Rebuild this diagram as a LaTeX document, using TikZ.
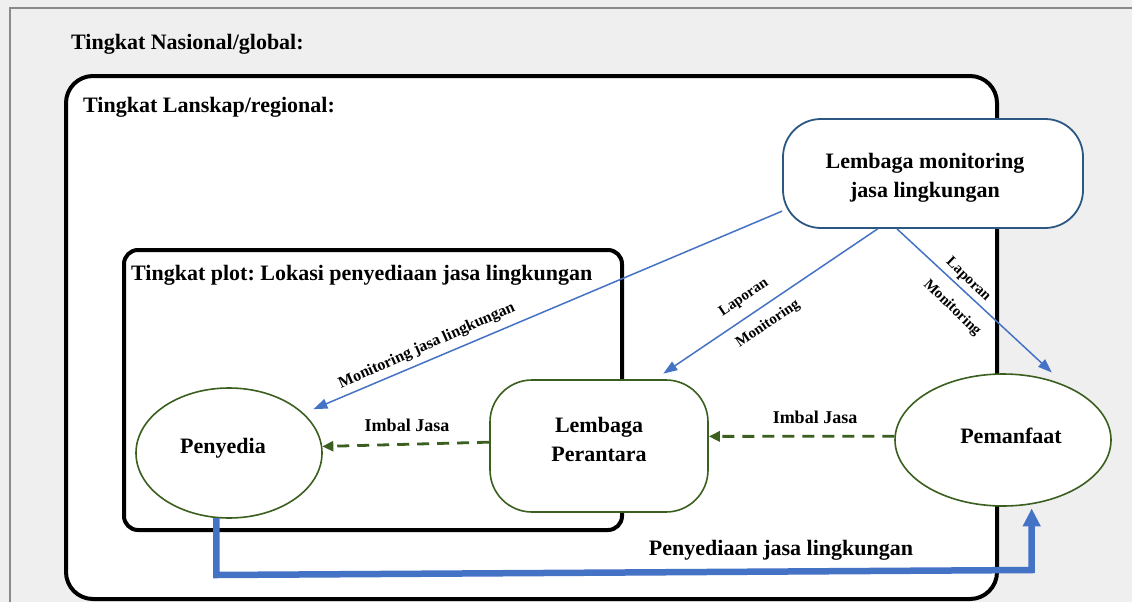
\documentclass[tikz,border=0pt]{standalone}
\usepackage{fontspec}
\setmainfont{Liberation Serif}
\usetikzlibrary{shapes.geometric,arrows.meta,calc}
\definecolor{paper}{HTML}{EFEFEF}
\definecolor{framegray}{HTML}{8A8A8A}
\definecolor{flowblue}{HTML}{4472C4}
\definecolor{navyline}{HTML}{2B5783}
\definecolor{olive}{HTML}{3A5F1E}
\frenchspacing

\begin{document}
\begin{tikzpicture}[x=1pt,y=-1pt,
  lbl/.style={font=\fontsize{22}{29}\selectfont\bfseries, inner sep=0pt},
  smalllbl/.style={font=\fontsize{15}{18}\selectfont\bfseries, inner sep=0pt},
  imbal/.style={font=\fontsize{18}{22}\selectfont\bfseries, inner sep=0pt, anchor=base},
  heading/.style={lbl, anchor=base west},
  actor/.style={ellipse, draw=olive, line width=1.6, fill=white, lbl},
  agency/.style={draw=olive, line width=1.6, fill=white, lbl, align=center},
  container/.style={draw=black, line width=4},
  blueline/.style={draw=flowblue, line width=1.5, -{Triangle[length=14pt,width=10pt]}},
  paydash/.style={draw=olive, line width=2.8, dash pattern=on 12pt off 8pt, -{Triangle[length=11pt,width=10pt]}},
  supply/.style={draw=flowblue, line width=6.5, -{Triangle[length=18pt,width=17pt]}}
]
\useasboundingbox (0,0) rectangle (1132,602);
\fill[paper] (0,0) rectangle (1132,602);
\draw[framegray, line width=1.5] (10,602) -- (10,8) -- (1132,8);

% nested levels
\draw[container, fill=white, rounded corners=27] (66,76) rectangle (997,599);
\draw[container, rounded corners=14] (124,250) rectangle (622,530);

\node[heading] (hnat) at (71,50) {Tingkat Nasional/global:};
\node[heading] (hland) at (83,112) {Tingkat Lanskap/regional:};
\node[heading] (hplot) at (131,280) {Tingkat plot: Lokasi penyediaan jasa lingkungan};

% actors
\node[draw=navyline, line width=1.8, fill=white, rounded corners=38,
      minimum width=300, minimum height=109, lbl, align=center] (mon) at (933,173.5)
      {\rule{0pt}{23pt}Lembaga monitoring\hspace*{16pt}\\jasa lingkungan\hspace*{16pt}};
\node[actor, minimum width=186, minimum height=130, text height=15pt, text depth=15pt]
      (pen) at (229,453) {Penyedia\hspace*{12pt}};
\node[agency, rounded corners=42, minimum width=218, minimum height=132] (lem) at (599,446)
      {Lembaga\\Perantara\rule[-14pt]{0pt}{0pt}};
\node[actor, minimum width=216, minimum height=132, text height=18pt, text depth=12pt]
      (pem) at (1003,440) {\hspace*{16pt}Pemanfaat};

% monitoring flows
\draw[blueline, shorten >=10.5pt] (mon.194) -- (pen.28);
\draw[blueline, shorten >=10pt] (mon.225) -- (lem.50);
\draw[blueline, shorten >=19pt] (mon.237) -- (pem.41);

% payments
\draw[paydash] (lem.178) -- (pen.4);
\draw[paydash] (pem.178) -- (lem.5);

% service provision
\coordinate (lowL) at (216,575);
\coordinate (lowR) at (1031,570);
\draw[supply, shorten >=4pt] (pen.259) -- (pen.259 |- lowL) -- (pem.294 |- lowR) -- (pem.294);

% labels
\node[smalllbl, font=\fontsize{16}{19}\selectfont\bfseries, rotate=24] (tmon) at (427,346) {Monitoring jasa lingkungan};
\node[smalllbl, rotate=34] (tlap1) at (744,298) {Laporan};
\node[smalllbl, rotate=34] (tmon1) at (768,324) {Monitoring};
\node[smalllbl, rotate=-44] (tlap2) at (968,280) {Laporan};
\node[smalllbl, rotate=-44] (tmon2) at (952,308) {Monitoring};
\node[imbal] (tij1) at (407,431) {Imbal Jasa};
\node[imbal] (tij2) at (815,423) {Imbal Jasa};
\node[lbl, anchor=base] (tpjl) at (781,555) {Penyediaan jasa lingkungan};
\end{tikzpicture}
\end{document}
